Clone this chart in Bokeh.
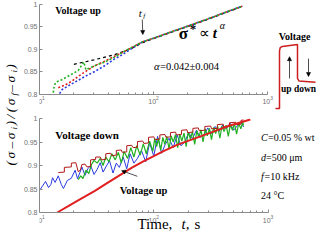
import math
from bokeh.plotting import figure
from bokeh.layouts import row, column
from bokeh.models import Range1d, Label, Arrow, NormalHead, FixedTicker, CustomJSTickFormatter
from bokeh.embed import file_html
from bokeh.resources import INLINE

# ---------------- data ----------------
x_major_ticks = [10, 100, 1000]
x_minor_ticks = [20, 30, 40, 50, 60, 70, 80, 90, 200, 300, 400, 500, 600, 700, 800, 900]
y_ticks = [0.8, 0.85, 0.9, 0.95, 1.0]

# top panel: "Voltage up" runs
up_red_t = [14.6, 16.8, 19.3, 21.8, 26, 30.5, 37.3, 45.5, 55, 65, 80, 100, 150, 200, 300, 400, 500, 600]
up_red_v = [0.815, 0.821, 0.830, 0.840, 0.853, 0.864, 0.874, 0.885, 0.895, 0.905, 0.917, 0.925, 0.941, 0.952, 0.968, 0.980, 0.989, 0.996]
up_green_t = [13.2, 13.5, 14.0, 15.5, 18.5, 21.8, 23.6, 24.5, 25.5, 30.5, 37.3, 45.5, 55.5, 65, 80, 100, 150, 200, 300, 400, 500, 600]
up_green_v = [0.804, 0.821, 0.828, 0.832, 0.843, 0.853, 0.866, 0.872, 0.855, 0.864, 0.872, 0.883, 0.896, 0.905, 0.917, 0.925, 0.941, 0.952, 0.968, 0.980, 0.989, 0.996]
up_blue_t = [15.0, 15.8, 17.8, 21.3, 25.0, 30.5, 37.3, 45.5, 52, 65, 80, 100, 150, 200, 300, 400, 500, 600]
up_blue_v = [0.802, 0.811, 0.819, 0.830, 0.840, 0.851, 0.864, 0.879, 0.887, 0.903, 0.917, 0.925, 0.941, 0.952, 0.968, 0.980, 0.989, 0.996]
fit_t = [20, 30, 45, 65, 80, 100, 150, 200, 300, 400, 500, 600]
fit_v = [0.867, 0.877, 0.888, 0.903, 0.915, 0.924, 0.940, 0.951, 0.967, 0.979, 0.988, 0.996]

# bottom panel: "Voltage down" runs
down_blue_t = [10, 10.6, 11.3, 12.0, 12.6, 13.0, 13.7, 14.6, 15.5, 16.2, 17.5, 19, 20.5, 21.5, 22.5, 23.5, 25, 26.5,
               28, 30, 32, 34, 36, 38.5, 41, 44, 47, 50, 54, 58, 62, 67, 72, 78, 85, 92, 100, 108, 117, 126, 136,
               148, 160, 173, 187, 202, 218, 236, 255, 275, 297, 320, 345, 372, 400, 430, 465, 500, 540, 580, 610]
down_blue_v = [0.847, 0.856, 0.866, 0.853, 0.860, 0.874, 0.864, 0.878, 0.860, 0.851, 0.868, 0.873, 0.890, 0.872,
               0.884, 0.897, 0.879, 0.893, 0.900, 0.881, 0.892, 0.906, 0.886, 0.899, 0.910, 0.884, 0.905, 0.896,
               0.918, 0.893, 0.925, 0.905, 0.915, 0.932, 0.908, 0.948, 0.920, 0.962, 0.926, 0.945, 0.958, 0.938,
               0.965, 0.942, 0.950, 0.970, 0.957, 0.975, 0.960, 0.965, 0.980, 0.968, 0.983, 0.972, 0.986, 0.978,
               0.990, 0.975, 0.985, 0.992, 0.982]
down_red_t = [14.6, 16.5, 16.5, 19, 19, 20.8, 21.8, 22.8, 23.5, 25, 26, 28, 28, 31, 31, 34, 35, 38, 38, 42,
              43, 47, 47, 52, 53, 58, 58, 64, 66, 72, 72, 80, 82, 90, 90, 100, 103, 113, 113, 125,
              128, 140, 140, 155, 158, 175, 175, 195, 198, 220, 220, 245, 250, 280, 280, 315, 320, 360, 360, 405,
              410, 460, 460, 520, 525, 580, 580, 610]
down_red_v = [0.885, 0.886, 0.896, 0.897, 0.905, 0.906, 0.887, 0.890, 0.902, 0.903, 0.897, 0.898, 0.912, 0.913,
              0.918, 0.918, 0.912, 0.913, 0.925, 0.926, 0.921, 0.922, 0.932, 0.933, 0.928, 0.929, 0.942, 0.943,
              0.938, 0.939, 0.951, 0.952, 0.947, 0.948, 0.960, 0.961, 0.955, 0.956, 0.965, 0.966, 0.960, 0.961,
              0.970, 0.971, 0.965, 0.966, 0.975, 0.976, 0.970, 0.971, 0.979, 0.980, 0.974, 0.975, 0.983, 0.984,
              0.978, 0.979, 0.987, 0.988, 0.982, 0.983, 0.991, 0.992, 0.987, 0.988, 0.996, 0.997]
down_green_t = [21.8, 23, 24, 25.5, 27, 28.5, 30, 32, 34, 36, 38, 40.5, 43, 46, 49, 52, 55, 59, 63, 67, 71, 76, 81,
                86, 92, 98, 102, 106, 110, 115, 120, 125, 130, 136, 142, 148, 155, 162, 169, 176, 184, 192, 200,
                209, 218, 228, 238, 248, 259, 270, 282, 294, 307, 320, 334, 348, 363, 379, 395, 412, 430, 449,
                468, 488, 509, 531, 554, 578, 600, 610]
down_green_v = [0.870, 0.878, 0.872, 0.890, 0.883, 0.902, 0.911, 0.905, 0.915, 0.900, 0.918, 0.908, 0.925, 0.912,
                0.928, 0.905, 0.930, 0.915, 0.938, 0.918, 0.942, 0.922, 0.946, 0.925, 0.952, 0.930, 0.957, 0.940,
                0.958, 0.932, 0.960, 0.945, 0.962, 0.935, 0.963, 0.950, 0.966, 0.938, 0.967, 0.952, 0.969, 0.940,
                0.971, 0.957, 0.972, 0.945, 0.974, 0.960, 0.976, 0.950, 0.978, 0.963, 0.979, 0.955, 0.981, 0.968,
                0.983, 0.958, 0.984, 0.972, 0.986, 0.962, 0.987, 0.975, 0.989, 0.967, 0.990, 0.978, 0.992, 0.985]
# smooth "Voltage up" reference curve in the bottom panel
ref_up_t = [14.3, 18, 21.8, 30.5, 40, 51, 65, 82.6, 100, 123, 160, 220, 315, 450, 700]
ref_up_v = [0.800, 0.814, 0.826, 0.846, 0.864, 0.880, 0.896, 0.910, 0.920, 0.931, 0.944, 0.956, 0.970, 0.984, 0.998]

# inset: schematic voltage step (arbitrary units)
step_time = [0.0, 1.0, 1.0, 1.1, 1.4, 3.5, 3.5, 3.7, 6.0]
step_volt = [0.0, 0.0, 0.90, 0.95, 0.97, 1.0, 0.47, 0.43, 0.41]

# ---------------- styling ----------------
SERIF = "Liberation Serif"
SANS = "Liberation Sans"
AX = "#8a8a8a"
RED = "#e02020"
DRED = "#b01818"
GREEN = "#20b020"
BLUE = "#2a3ae0"


def style(p):
    p.outline_line_color = None
    p.grid.visible = False
    xa = p.xaxis[0]
    ya = p.yaxis[0]
    xa.ticker = FixedTicker(ticks=x_major_ticks, minor_ticks=x_minor_ticks)
    ya.ticker = FixedTicker(ticks=y_ticks)
    ya.formatter = CustomJSTickFormatter(code="return String(Math.round(tick*100)/100);")
    for a in (xa, ya):
        a.axis_line_color = AX
        a.major_tick_line_color = AX
        a.minor_tick_line_color = AX
        a.major_tick_in = 3
        a.major_tick_out = 0
        a.minor_tick_in = 2
        a.minor_tick_out = 0
        a.major_label_text_font = SANS
        a.major_label_text_font_size = "7px"
        a.major_label_text_color = "#707070"
        a.major_label_standoff = 2
    xa.bounds = (10, 1000)
    ya.bounds = (0.8, 1.0)
    xa.fixed_location = 0.8


def lab(p, x, y, text, size, fstyle="normal", align="left", baseline="middle", xo=0, yo=0, angle=0, font=SERIF):
    p.add_layout(Label(x=x, y=y, text=text, text_font=font, text_font_size=f"{size}px",
                       text_font_style=fstyle, text_align=align, text_baseline=baseline,
                       x_offset=xo, y_offset=yo, angle=angle, text_color="black"))


def arrow(p, x0, y0, x1, y1):
    p.add_layout(Arrow(end=NormalHead(size=4, fill_color="black", line_color="black", line_width=0.6),
                       x_start=x0, y_start=y0, x_end=x1, y_end=y1, line_color="#222222", line_width=0.8))


# ---------------- top panel ----------------
# frame: page x 44..283, y 8..118 ; 1.0 at y=12, 0.8 at y=102
top = figure(width=255, height=110, x_axis_type="log", x_range=Range1d(10, 1172),
             y_range=Range1d(0.76444, 1.00889),
             output_backend="svg", toolbar_location=None,
             min_border_left=16, min_border_right=0, min_border_top=0, min_border_bottom=0)
style(top)
top.line(fit_t, fit_v, color="black", line_width=1.2, line_dash="3 3")
top.line(up_red_t, up_red_v, color=RED, line_width=1.6, line_dash="2 2")
top.line(up_blue_t, up_blue_v, color=BLUE, line_width=1.6, line_dash="2 2")
top.line(up_green_t, up_green_v, color=GREEN, line_width=1.6, line_dash="2 2")

lab(top, 13.75, 0.9867, "Voltage up", 10, "bold")
lab(top, 76.4, 0.982, "t", 11, "italic", align="center")
lab(top, 82.8, 0.9745, "f", 7, "italic", align="center")
arrow(top, 79.6, 0.9667, 80.5, 0.9333)
SX, SY = 166, 0.9356
lab(top, SX, SY, "σ", 17, "bold")
lab(top, SX, SY, "*", 13, "bold", xo=11, yo=5)
lab(top, SX, SY, "∝", 15, xo=20)
lab(top, SX, SY, "t", 15, "bold italic", xo=34)
lab(top, SX, SY, "α", 10, "italic", xo=41, yo=8)
lab(top, 101, 0.8622, "α", 10.5, "italic")
lab(top, 101, 0.8622, "=0.042±0.004", 10.5, xo=6)

# ---------------- inset ----------------
inset = figure(width=41, height=110, x_range=Range1d(0.444, 6.14), y_range=Range1d(-0.031, 1.688),
               output_backend="svg", toolbar_location=None, min_border=0)
inset.axis.visible = False
inset.grid.visible = False
inset.outline_line_color = None
inset.line(step_time, step_volt, color="#cc1f1f", line_width=1.5)
lab(inset, 3.1, 1.125, "Voltage", 10, "bold", align="center")
arrow(inset, 2.39, 0.47, 2.39, 0.81)
arrow(inset, 5.03, 0.78, 5.03, 0.50)
lab(inset, 6.08, 0.31, "up down", 9.5, "bold", align="right")

# ---------------- bottom panel ----------------
# frame: page x 44..324, y 126..240 ; 1.0 at y=126, 0.8 at y=220
bot = figure(width=296, height=122, x_axis_type="log", x_range=Range1d(10, 2655),
             y_range=Range1d(0.75745, 1.0),
             output_backend="svg", toolbar_location=None,
             min_border_left=16, min_border_right=0, min_border_top=8, min_border_bottom=0)
style(bot)
bot.line(down_blue_t, down_blue_v, color=BLUE, line_width=1.0)
bot.line(down_green_t, down_green_v, color=GREEN, line_width=1.2)
bot.line(down_red_t, down_red_v, color=DRED, line_width=1.0)
bot.line(ref_up_t, ref_up_v, color=RED, line_width=2.0)

lab(bot, 13.75, 0.964, "Voltage down", 11, "bold")
lab(bot, 50.3, 0.847, "Voltage up", 10.5, "bold")
arrow(bot, 71.8, 0.877, 52.3, 0.889)
RX = 869
lab(bot, RX, 0.960, "C", 10, "italic")
lab(bot, RX, 0.960, "=0.05 % wt", 10, xo=7)
lab(bot, RX, 0.917, "d", 10, "italic")
lab(bot, RX, 0.917, "=500 μm", 10, xo=5)
lab(bot, RX, 0.877, "f", 10, "italic")
lab(bot, RX, 0.877, "=10 kHz", 10, xo=3.5)
lab(bot, RX, 0.836, "24 °C", 10)
TX, TY = 72, 0.7745
lab(bot, TX, TY, "Time,", 15)
lab(bot, TX, TY, "t,", 15, "italic", xo=44)
lab(bot, TX, TY, "s", 15, xo=57)

# ---------------- shared y label ----------------
ylab = figure(width=20, height=232, x_range=Range1d(0, 20), y_range=Range1d(0, 232),
              output_backend="svg", toolbar_location=None, min_border=0)
ylab.axis.visible = False
ylab.grid.visible = False
ylab.outline_line_color = None
EM = {"(": 0.333, ")": 0.333, "σ": 0.55, "–": 0.5, "/": 0.278, "i": 0.278, "f": 0.278}
chars = [("(", 0), ("σ", 0), ("–", 0), ("σ", 0), ("i", 1), (")", 0), ("/", 0), ("(", 0), ("σ", 0), ("f", 1),
         ("–", 0), ("σ", 0), ("i", 1), (")", 0)]
ypos = 67.0
for ch, sub in chars:
    size = 9 if sub else 13.5
    lab(ylab, 13.5 if sub else 10, ypos, ch, size, "italic", baseline="middle", angle=math.pi / 2)
    ypos += EM[ch] * size + (1.3 if sub else 2.5)

layout = row(ylab, column(row(top, inset), bot))
open("out.html", "w").write(file_html(layout, INLINE))
